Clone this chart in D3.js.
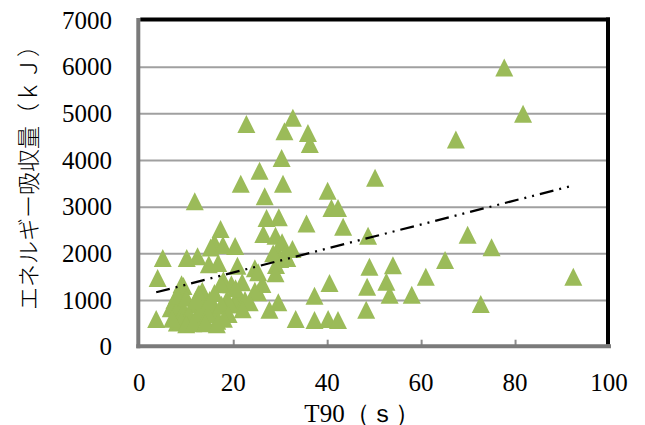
<!DOCTYPE html>
<html lang="ja">
<head>
<meta charset="utf-8">
<title>T90 とエネルギー吸収量</title>
<script src="https://cdn.jsdelivr.net/npm/d3@7"></script>
<style>
    html, body { margin: 0; padding: 0; background: #fff; }
    svg { display: block; }
    .serif { font-family: "Liberation Serif", "Times New Roman", Tinos, "DejaVu Serif", serif; }
</style>
</head>
<body>
<div id="chart-container"></div>
<script>
// CONSTANTS ___________________________________________________________

// Data (T90 in s, energy absorption in kJ)
const T90_VALUES = [
    77.7, 81.7, 67.4, 50.2, 22.8, 32.7, 30.9, 35.9, 36.3, 30.3,
    25.6, 21.6, 30.6, 26.7, 11.8, 40.1, 40.9, 42.3, 43.4, 35.6,
    48.7, 69.9, 75.0, 92.4, 72.7, 65.1, 61.0, 54.0, 49.0, 52.6,
    48.5, 53.3, 58.0, 40.5, 48.3, 37.3, 33.3, 37.3, 40.2, 42.3,
    27.1, 29.7, 26.4, 29.0, 30.4, 32.6, 29.3, 31.0, 30.0, 29.1,
    29.0, 17.3, 16.0, 20.4, 15.2, 17.8, 12.4, 10.1, 5.0, 3.9,
    3.6, 20.9, 16.8, 14.8, 24.6, 25.3, 9.4, 17.9, 21.9, 19.6,
    12.9, 25.3, 26.2, 29.6, 27.7, 24.6, 21.0, 20.5, 18.7, 17.3,
    13.4, 9.3, 12.0, 15.9, 16.6, 13.7, 6.7, 7.9, 8.0, 15.7,
    9.0, 12.6, 7.5, 8.5, 9.5, 10.5, 11.0, 9.0, 10.0, 11.5,
    12.5, 13.5, 14.5, 8.0, 10.0, 7.0, 12.0, 15.0, 16.0, 17.5,
    19.0, 18.0, 20.5, 22.5, 23.5, 22.0, 14.0, 16.5, 28.5, 31.5
];
const ENERGY_VALUES = [
    5980, 4990, 4440, 3620, 4770, 4905, 4616, 4580, 4344, 4044,
    3770, 3493, 3493, 3223, 3116, 3340, 2970, 2970, 2572, 2640,
    2376, 2400, 2130, 1500, 915, 1858, 1498, 1747, 1712, 1393,
    1286, 1112, 1112, 1365, 793, 1093, 594, 572, 594, 572,
    2758, 2773, 2415, 2379, 2237, 2094, 2057, 1982, 1880, 1751,
    1573, 2522, 2233, 2158, 2126, 2180, 1937, 1900, 1900, 1472,
    594, 1736, 1794, 1766, 1680, 1594, 1301, 1423, 1380, 1337,
    1130, 1166, 1344, 951, 793, 1198, 1108, 905, 1022, 1340,
    1200, 1161, 911, 876, 555, 626, 823, 675, 519, 808,
    1340, 1130, 1000, 900, 780, 700, 600, 550, 480, 500,
    720, 850, 700, 1100, 1050, 600, 1000, 1000, 1150, 900,
    700, 600, 1250, 1000, 950, 800, 500, 480, 2000, 1900
];

// Linear trend line end points (x, y) as drawn in the reference
const TREND_X = [3.6, 92.6];
const TREND_Y = [1166, 3459];

// Tick labels
const X_TICKS = [0, 20, 40, 60, 80, 100];
const Y_TICKS = [0, 1000, 2000, 3000, 4000, 5000, 6000, 7000];

const X_TITLE = 'T90（ｓ）';
const Y_TITLE = 'エネルギー吸収量（ｋＪ）';

// Chart settings
const SVG_WIDTH = 645;
const SVG_HEIGHT = 425;
const PLOT = {left: 139.3, right: 609, top: 20, bottom: 346.7};
const MARKER_COLOR = '#9BBB59';
const MARKER_HALF = 9; // triangle is about 18px wide and tall
const GRID_COLOR = '#a0a0a0';
//________________________________________________________________________________________




// CHART _______________________________________________________________
function drawChart() {
    console.debug("drawChart()");

    const svg = d3.select('#chart-container')
        .append('svg')
        .attr('width', SVG_WIDTH)
        .attr('height', SVG_HEIGHT)
        .attr('viewBox', `0 0 ${SVG_WIDTH} ${SVG_HEIGHT}`);

    const xScale = d3.scaleLinear().domain([0, 100]).range([PLOT.left, PLOT.right]);
    const yScale = d3.scaleLinear().domain([0, 7000]).range([PLOT.bottom, PLOT.top]);

    // Horizontal gridlines (skip 0 and 7000, those are the frame)
    svg.append('g')
        .attr('transform', `translate(${PLOT.left},0)`)
        .call(d3.axisLeft(yScale)
            .tickValues(Y_TICKS.slice(1, -1))
            .tickSize(-(PLOT.right - PLOT.left))
            .tickFormat(''))
        .call(function(g) { g.select('.domain').remove(); })
        .selectAll('.tick line')
        .attr('stroke', GRID_COLOR)
        .attr('stroke-width', 2);

    // Small inner tick marks on the bottom edge
    svg.append('g')
        .attr('transform', `translate(0,${PLOT.bottom})`)
        .call(d3.axisBottom(xScale)
            .tickValues(X_TICKS.slice(1, -1))
            .tickSize(-7)
            .tickFormat(''))
        .call(function(g) { g.select('.domain').remove(); })
        .selectAll('.tick line')
        .attr('stroke', '#8c8c8c')
        .attr('stroke-width', 2);

    // Frame: gray left/bottom, black top/right
    const frame = svg.append('g').attr('fill', 'none');
    frame.append('line')
        .attr('x1', PLOT.left - 1).attr('x2', PLOT.left - 1)
        .attr('y1', PLOT.top - 2).attr('y2', PLOT.bottom + 1.5)
        .attr('stroke', '#7a7a7a').attr('stroke-width', 4);
    frame.append('line')
        .attr('x1', PLOT.left - 3).attr('x2', PLOT.right + 2)
        .attr('y1', PLOT.bottom - 0.5).attr('y2', PLOT.bottom - 0.5)
        .attr('stroke', '#7a7a7a').attr('stroke-width', 4);
    frame.append('line')
        .attr('x1', PLOT.left + 1).attr('x2', PLOT.right + 1)
        .attr('y1', PLOT.top - 0.5).attr('y2', PLOT.top - 0.5)
        .attr('stroke', '#000').attr('stroke-width', 4);
    frame.append('line')
        .attr('x1', PLOT.right - 1).attr('x2', PLOT.right - 1)
        .attr('y1', PLOT.top - 2.5).attr('y2', PLOT.bottom - 2.5)
        .attr('stroke', '#000').attr('stroke-width', 4);

    // Y tick labels
    svg.append('g')
        .selectAll('text')
        .data(Y_TICKS)
        .enter()
        .append('text')
        .attr('class', 'serif')
        .attr('x', 112)
        .attr('y', function(d) { return yScale(d); })
        .attr('dy', '0.34em')
        .attr('text-anchor', 'end')
        .attr('font-size', '25px')
        .attr('fill', '#000')
        .text(function(d) { return d; });

    // X tick labels
    svg.append('g')
        .selectAll('text')
        .data(X_TICKS)
        .enter()
        .append('text')
        .attr('class', 'serif')
        .attr('x', function(d) { return xScale(d); })
        .attr('y', 382)
        .attr('dy', '0.34em')
        .attr('text-anchor', 'middle')
        .attr('font-size', '25px')
        .attr('fill', '#000')
        .text(function(d) { return d; });

    // Axis titles
    svg.append('text')
        .attr('class', 'serif')
        .attr('x', 362)
        .attr('y', 413)
        .attr('dy', '0.34em')
        .attr('text-anchor', 'middle')
        .attr('font-size', '25px')
        .text(X_TITLE);

    svg.append('text')
        .attr('transform', 'translate(29,172) rotate(-90)')
        .attr('dy', '0.36em')
        .attr('text-anchor', 'middle')
        .attr('font-family', '"Noto Sans CJK JP", sans-serif')
        .attr('font-size', '23px')
        .attr('font-weight', 300)
        .text(Y_TITLE);

    // Scatter points (triangles)
    const points = T90_VALUES.map(function(x, i) { return {x: x, y: ENERGY_VALUES[i]}; });
    const h = MARKER_HALF;
    svg.append('g')
        .selectAll('path')
        .data(points)
        .enter()
        .append('path')
        .attr('d', `M0,${-h}L${h},${h}L${-h},${h}Z`)
        .attr('transform', function(d) { return `translate(${xScale(d.x)},${yScale(d.y)})`; })
        .attr('fill', MARKER_COLOR);

    // Trend line (long dash - dot - dot)
    const trend = TREND_X.map(function(x, i) { return [x, TREND_Y[i]]; });
    svg.append('path')
        .datum(trend)
        .attr('d', d3.line()
            .x(function(d) { return xScale(d[0]); })
            .y(function(d) { return yScale(d[1]); }))
        .attr('fill', 'none')
        .attr('stroke', '#000')
        .attr('stroke-width', 2.25)
        .attr('stroke-dasharray', '14 6 2 6 2 6');
}
//________________________________________________________________________________________

drawChart();
</script>
</body>
</html>
